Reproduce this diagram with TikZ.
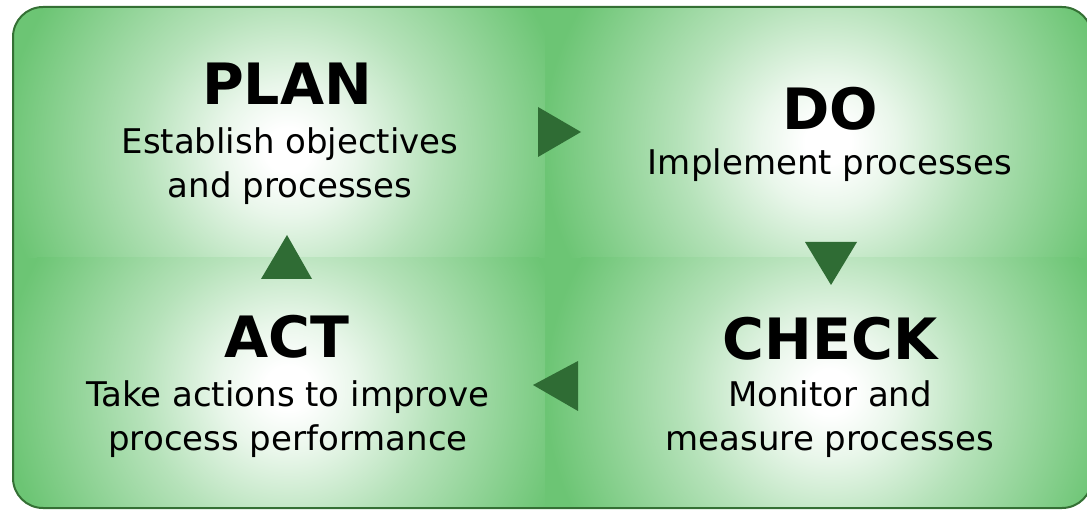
\documentclass[tikz,border=0pt]{standalone}
\usepackage{fontspec}
\setmainfont{DejaVu Sans}
\usetikzlibrary{shadings}
\definecolor{bggreen}{RGB}{108,197,116}
\definecolor{edgegreen}{RGB}{52,112,52}
\definecolor{arrowgreen}{RGB}{47,108,52}
\pgfdeclareradialshading{glow}{\pgfpoint{0bp}{0bp}}{color(0bp)=(white); color(2bp)=(white); color(6bp)=(bggreen!15!white); color(13bp)=(bggreen!50!white); color(25bp)=(bggreen); color(50bp)=(bggreen)}
\tikzset{
  title/.style={anchor=base, font=\bfseries\fontsize{57}{60}\selectfont, inner sep=0pt},
  body/.style={anchor=base, align=center, font=\fontsize{34}{44}\selectfont, inner sep=0pt},
  tri/.style={fill=arrowgreen, draw=none}
}
\begin{document}
\begin{tikzpicture}[x=1pt,y=-1pt]
\useasboundingbox (0,0) rectangle (1087,510);
% background
\fill[bggreen, rounded corners=30pt] (13,7) rectangle (1092,508);
\begin{scope}
  \clip[rounded corners=30pt] (13,7) rectangle (1092,508);
  \begin{scope}\clip (0,0) rectangle (545,258);
    \shade[shading=glow] (288,150) ellipse [x radius=285, y radius=275];\end{scope}
  \begin{scope}\clip (545,0) rectangle (1100,258);
    \shade[shading=glow] (828,142) ellipse [x radius=285, y radius=275];\end{scope}
  \begin{scope}\clip (0,258) rectangle (545,520);
    \shade[shading=glow] (288,388) ellipse [x radius=285, y radius=275];\end{scope}
  \begin{scope}\clip (545,258) rectangle (1100,520);
    \shade[shading=glow] (830,392) ellipse [x radius=285, y radius=275];\end{scope}
\end{scope}
\draw[edgegreen, line width=2pt, rounded corners=30pt] (13,7) rectangle (1092,508);
% texts
\node[title] (plan) at (287,105) {PLAN};
\node[body] (plantxt) at (290,198) {Establish objectives\\and processes};
\node[title] (do) at (830,130) {DO};
\node[body] (dotxt) at (830,175) {Implement processes};
\node[title] (act) at (287,358) {ACT};
\node[body] (acttxt) at (288,450) {Take actions to improve\\process performance};
\node[title] (check) at (830,360) {CHECK};
\node[body] (checktxt) at (830,450) {Monitor and\\measure processes};
% triangles
\fill[tri] (538,107) -- (581,132) -- (538,157) -- cycle;
\fill[tri] (805,242) -- (857,242) -- (831,285) -- cycle;
\fill[tri] (578,361) -- (578,411) -- (533,385) -- cycle;
\fill[tri] (261,279) -- (312,279) -- (287,235) -- cycle;
\end{tikzpicture}
\end{document}
